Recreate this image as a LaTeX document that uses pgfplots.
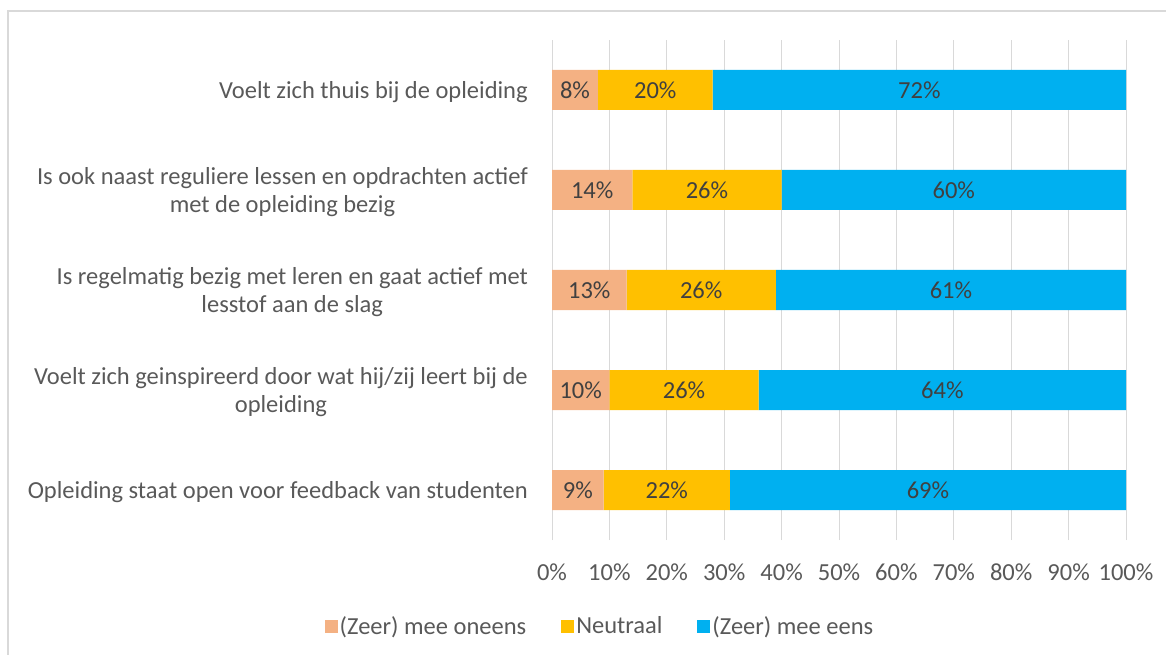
\documentclass[border=0pt]{standalone}
\usepackage{pgfplots}
\pgfplotsset{compat=1.18}
\usepackage{fontspec}
\setmainfont{Carlito}
\definecolor{cOne}{HTML}{F4B183}
\definecolor{cTwo}{HTML}{FFC000}
\definecolor{cThree}{HTML}{00B0F0}
\definecolor{txt}{HTML}{595959}
\definecolor{barTxt}{HTML}{404040}
\definecolor{gridc}{HTML}{D9D9D9}
\newcommand{\cf}{\fontsize{24.5}{28}\selectfont}
\begin{document}
\begin{tikzpicture}[x=1pt,y=1pt]
\useasboundingbox (0,0) rectangle (1166,654);
\draw[gridc, line width=2pt] (8,-2) -- (8,643) -- (1170,643);
\begin{axis}[
  at={(552pt,114pt)}, anchor=south west,
  scale only axis, width=574pt, height=500pt,
  xmin=0, xmax=100, ymin=-0.5, ymax=4.5,
  xbar stacked, bar width=40pt,
  xtick={0,10,...,100},
  xticklabel={\pgfmathprintnumber{\tick}\%},
  ytick={0,1,2,3,4},
  yticklabels={Opleiding staat open voor feedback van studenten,
    {Voelt zich geinspireerd door wat hij/zij leert bij de\\opleiding},
    {Is regelmatig bezig met leren en gaat actief met\\lesstof aan de slag},
    {Is ook naast reguliere lessen en opdrachten actief\\met de opleiding bezig},
    Voelt zich thuis bij de opleiding},
  major tick length=0pt,
  axis line style={draw=none},
  xmajorgrids, major grid style={gridc, line width=1pt},
  xticklabel style={font=\cf, text=txt, inner sep=0pt, yshift=-24pt},
  yticklabel style={font=\cf, text=txt, align=center, anchor=east, inner sep=0pt, xshift=-24pt, yshift=-2pt},
  /pgf/number format/assume math mode=true,
  legend columns=3,
  legend style={at={(rel axis cs:0.0836,-0.172)}, anchor=center, draw=none, fill=none,
    font=\cf, text=txt, inner sep=0pt,
    /tikz/every even column/.append style={column sep=33pt}},
  legend image code/.code={\fill[#1] (0pt,-6.5pt) rectangle (13pt,6.5pt);},
  clip=false,
]
\addplot[fill=cOne, draw=none] coordinates {(9,0) (10,1) (13,2) (14,3) (8,4)};
\addplot[fill=cTwo, draw=none] coordinates {(22,0) (26,1) (26,2) (26,3) (20,4)};
\addplot[fill=cThree, draw=none] coordinates {(69,0) (64,1) (61,2) (60,3) (72,4)};
\legend{(Zeer) mee oneens, Neutraal, (Zeer) mee eens}
\end{axis}
\begin{axis}[
  at={(552pt,114pt)}, anchor=south west,
  scale only axis, width=574pt, height=500pt,
  xmin=0, xmax=100, ymin=-0.5, ymax=4.5,
  hide axis,
  nodes near coords,
  point meta=explicit symbolic,
  every node near coord/.append style={anchor=center, text=barTxt, font=\cf},
]
\addplot[only marks, mark=none] table[meta=l] {
x y l
4.5 0 9\%
20 0 22\%
65.5 0 69\%
5 1 10\%
23 1 26\%
68 1 64\%
6.5 2 13\%
26 2 26\%
69.5 2 61\%
7 3 14\%
27 3 26\%
70 3 60\%
4 4 8\%
18 4 20\%
64 4 72\%
};
\end{axis}
\end{tikzpicture}
\end{document}
